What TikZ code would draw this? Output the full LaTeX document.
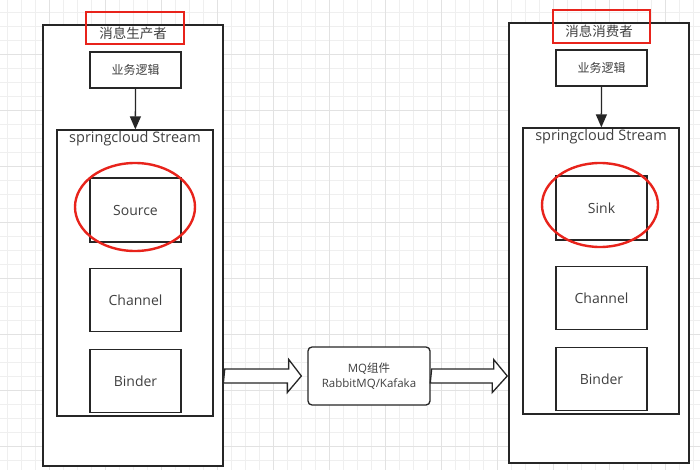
\documentclass[tikz,border=0pt]{standalone}
\usepackage{fontspec}
\setmainfont{Open Sans}
\newfontfamily\cjk{Noto Sans CJK SC}
\usepackage{tikz}
\usetikzlibrary{positioning,arrows.meta,calc,shapes.geometric}
\definecolor{txtgray}{HTML}{404040}
\definecolor{gridlight}{HTML}{EFEFEF}
\definecolor{griddark}{HTML}{E2E2E2}
\definecolor{markred}{HTML}{E8231B}
\tikzset{boxnode/.style={rectangle, draw=black!85, fill=white, line width=1.3pt, inner sep=0pt, text=txtgray, font=\fontsize{14}{16}\selectfont},
outernode/.style={rectangle, draw=black!85, fill=white, line width=1.5pt, inner sep=0pt},
labelnode/.style={inner sep=0pt, text=txtgray, font=\fontsize{13.5}{16}\selectfont},
marknode/.style={rectangle, draw=markred, line width=2.4pt, inner sep=0pt},
ringnode/.style={ellipse, draw=markred, line width=2.4pt, inner sep=0pt},
mqnode/.style={rectangle, rounded corners=4pt, draw=black!85, fill=white, line width=1.3pt, align=center, text=txtgray, font=\fontsize{11.5}{15}\selectfont},
fatarrow/.style={draw=black!85, fill=white, line width=1.3pt, line join=miter},}

\begin{document}
\begin{tikzpicture}[x=1pt, y=-1pt, node distance=25pt]
\useasboundingbox (0,0) rectangle (700,470);
% background grid
\foreach \x in {7,21,...,693} \draw[gridlight] (\x,0) -- (\x,470);
\foreach \y in {12,26,...,460} \draw[gridlight] (0,\y) -- (700,\y);
\foreach \x in {49,105,...,665} \draw[griddark] (\x,0) -- (\x,470);
\foreach \y in {54,110,...,446} \draw[griddark] (0,\y) -- (700,\y);

% producer
\node [outernode, minimum width=180, minimum height=441] (lprod) at (133,245.5) {};
\node [labelnode] (ltitle) at (133,33) {\cjk 消息生产者};
\node [marknode, minimum width=98, minimum height=32] (lmark) at (135,28) {};
\node [boxnode, minimum width=91, minimum height=36, font=\fontsize{12}{14}\selectfont] (lbiz) at (135.5,70) {\cjk 业务逻辑};
\node [boxnode, minimum width=156, minimum height=286] (lstream) at (135,273) {};
\node [labelnode, anchor=north, inner sep=2pt, font=\fontsize{14.5}{16}\selectfont] (lstreamlabel) at (lstream.north) {springcloud Stream};
\node [boxnode, minimum width=91, minimum height=64] (source) at (135.5,210) {Source};
\node [boxnode, minimum width=91, minimum height=63] (lchannel) [below=25pt of source] {Channel};
\node [boxnode, minimum width=91, minimum height=63] (lbinder) [below=17pt of lchannel] {Binder};
\node [ringnode, minimum width=120, minimum height=88] (lring) at (135,207) {};
\draw[line width=1.3pt, draw=black!85, -{Triangle[width=11pt,length=13pt]}] (lbiz) -- (lstream);

% consumer
\node [outernode, minimum width=180, minimum height=440] (rcons) at (599,243) {};
\node [labelnode] (rtitle) at (599,31) {\cjk 消息消费者};
\node [marknode, minimum width=97, minimum height=33] (rmark) at (601.5,26.5) {};
\node [boxnode, minimum width=91, minimum height=36, font=\fontsize{12}{14}\selectfont] (rbiz) at (601.5,68) {\cjk 业务逻辑};
\node [boxnode, minimum width=156, minimum height=286] (rstream) at (601,271) {};
\node [labelnode, anchor=north, inner sep=2pt, font=\fontsize{14.5}{16}\selectfont] (rstreamlabel) at (rstream.north) {springcloud Stream};
\node [boxnode, minimum width=91, minimum height=64] (sink) at (601.5,208) {Sink};
\node [boxnode, minimum width=91, minimum height=63] (rchannel) [below=25pt of sink] {Channel};
\node [boxnode, minimum width=91, minimum height=63] (rbinder) [below=17pt of rchannel] {Binder};
\node [ringnode, minimum width=116, minimum height=84] (rring) at (600,205) {};
\draw[line width=1.3pt, draw=black!85, -{Triangle[width=11pt,length=13pt]}] (rbiz) -- (rstream);

% middleware
\node [mqnode, minimum width=122, minimum height=58] (mq) at (369,376) {MQ{\cjk 组件}\\RabbitMQ/Kafaka};
\draw[fatarrow] ($(lprod.east |- mq.west)+(1,-7)$) -- ++(64,0) -- ++(0,-9.5) -- ($(mq.west)+(-6,0)$) -- ++(-14,16.5) -- ++(0,-9.5) -- ++(-64,0) -- cycle;
\draw[fatarrow] ($(mq.east)+(1,-7)$) -- ++(62,0) -- ++(0,-9.5) -- ($(rcons.west |- mq.east)+(-1,0)$) -- ++(-15,16.5) -- ++(0,-9.5) -- ++(-62,0) -- cycle;
\end{tikzpicture}
\end{document}
